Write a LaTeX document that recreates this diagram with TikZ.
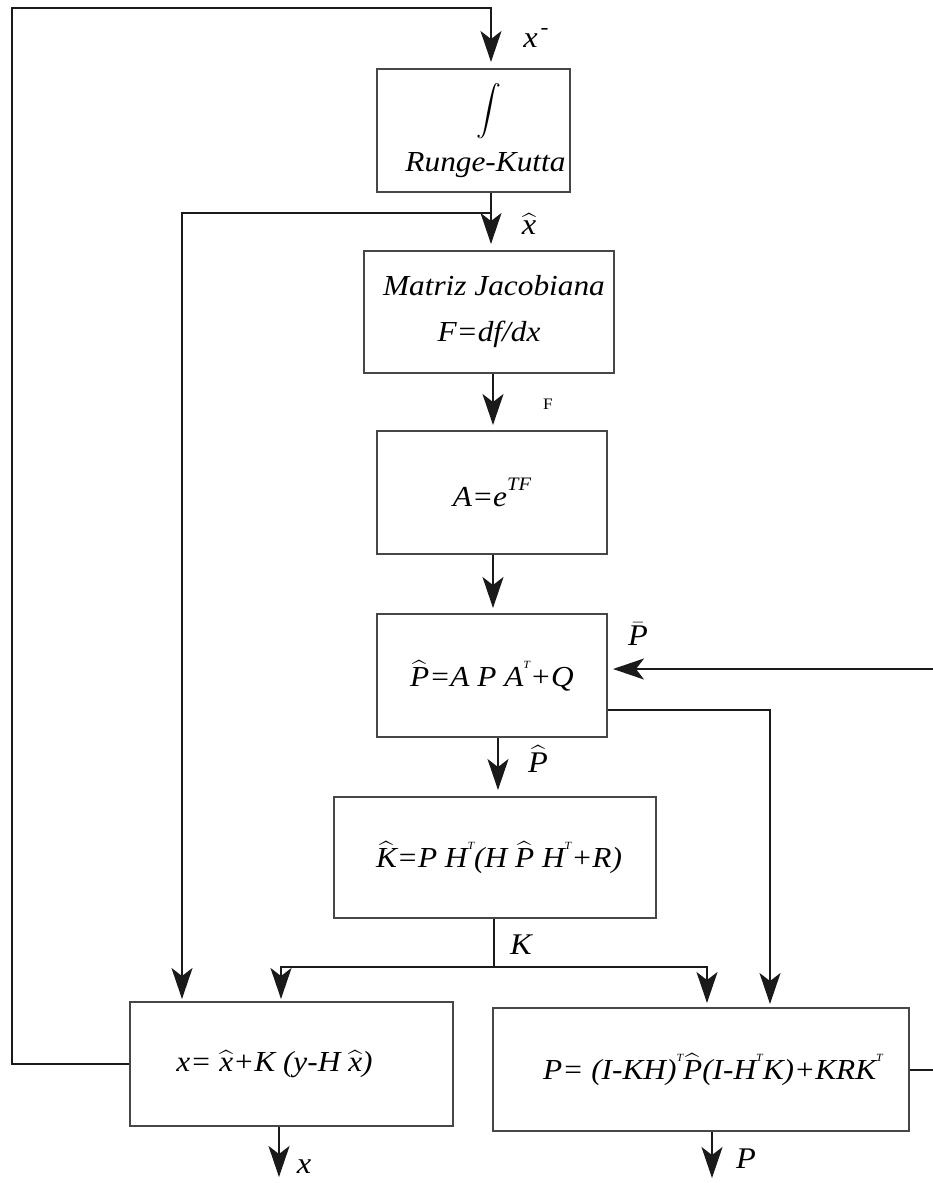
\RequirePackage{fix-cm}
\documentclass[tikz,border=0pt]{standalone}
\usepackage{amsmath}
\usepackage{fontspec}
\setmainfont{Liberation Serif}[FakeStretch=1.08]
\usetikzlibrary{arrows.meta,calc}
\definecolor{linec}{HTML}{1A1A1A}
\definecolor{boxc}{HTML}{474747}
\newcommand\hatof[1]{$\widehat{\text{\itshape #1}}$}
\newcommand\supT{\raisebox{0.62em}{\fontsize{11}{11}\selectfont T}}
\begin{document}
\begin{tikzpicture}[x=1pt,y=-1pt,
  box/.style={draw=boxc, line width=2pt, rectangle, inner sep=0pt, align=center,
              font=\fontsize{29}{46}\selectfont\itshape},
  ln/.style={draw=linec, line width=2pt},
  arr/.style={draw=linec, line width=2pt, -{Stealth[length=31pt,width=21pt,inset=8pt]}},
  lab/.style={inner sep=0pt, font=\fontsize{30}{30}\selectfont\itshape}]
\useasboundingbox (0,0) rectangle (933,1183);

% boxes
\node[box, minimum width=193pt, minimum height=123pt] (b1) at (473.5,130.5)
  {\hspace*{30pt}{\fontsize{27}{27}\selectfont$\displaystyle\int$}\\[8pt]\hspace*{24pt}Runge-Kutta};
\node[box, minimum width=250pt, minimum height=122pt] (b2) at (489,312)
  {\hspace*{10pt}Matriz Jacobiana\\F=df/dx};
\node[box, minimum width=230pt, minimum height=123pt] (b3) at (492,492.5)
  {A=e\raisebox{0.55em}{\fontsize{19}{19}\selectfont TF}};
\node[box, minimum width=230pt, minimum height=123pt] (b4) at (492,675.5)
  {\raisebox{3pt}{\hatof{P}=A P A\supT+Q}};
\node[box, minimum width=322pt, minimum height=121pt] (b5) at (495,857.5)
  {\hspace*{8pt}\hatof{K}=P H\supT(H \hatof{P} H\supT+R)};
\node[box, minimum width=323pt, minimum height=124pt] (b6) at (291.5,1064)
  {x= \hatof{x}+K (y-H \hatof{x})\hspace*{34pt}};
\node[box, minimum width=416pt, minimum height=123pt] (b7) at (701,1069.5)
  {\hspace*{24pt}P= (I-KH)\supT\hatof{P}(I-H\supT K)+KRK\supT};

% helper coordinates
\coordinate (tl) at (12,8);
\coordinate (cA) at (491,0);
\coordinate (j1) at (491,213);
\coordinate (cX) at (182,0);
\coordinate (cB) at (493,0);
\coordinate (cC) at (498,0);
\coordinate (cK) at (494,0);
\coordinate (kj) at (494,967);
\coordinate (cL) at (281,0);
\coordinate (cR) at (707,0);
\coordinate (cP) at (770,0);
\coordinate (rt) at (934,0);
\coordinate (b4in) at ([yshift=6.5pt]b4.east);
\coordinate (b4out) at ([yshift=-34.5pt]b4.east);
\coordinate (ox) at (279,1177);
\coordinate (op) at (712,1178);

% connectors
\draw[arr, shorten >=6pt] (b6.west) -| (tl) -| (b1.north -| cA);
\draw[arr, shorten >=6pt] (b1.south -| cA) -- (b2.north -| cA);
\draw[arr, shorten >=2pt] (j1) -| (b6.north -| cX);
\draw[arr, shorten >=5pt] (b2.south -| cB) -- (b3.north -| cB);
\draw[arr, shorten >=5pt] (b3.south -| cB) -- (b4.north -| cB);
\draw[arr, shorten >=6pt] (b4.south -| cC) -- (b5.north -| cC);
\draw[ln] (b5.south -| cK) -- (kj);
\draw[arr, shorten >=2pt] (kj) -| (b6.north -| cL);
\draw[arr, shorten >=4pt] (kj) -| (b7.north -| cR);
\draw[arr, shorten >=3pt] (b4out) -| (b7.north -| cP);
\draw[arr, shorten >=5pt] (b7.east) -| (b4in -| rt) -- (b4in);
\draw[arr] (b6.south -| ox) -- (ox);
\draw[arr] (b7.south -| op) -- (op);

% labels
\node[lab] (lxm) at (536,38) {x\raisebox{0.45em}{\hspace{3pt}\fontsize{22}{22}\selectfont -}};
\node[lab] (lxh) at (529,224) {\hatof{x}};
\node[inner sep=0pt, font=\fontsize{16}{16}\selectfont] (lF) at (548,404) {F};
\node[lab] (lPb) at (638,634) {$\bar{\text{\itshape P}}$};
\node[lab] (lPh) at (538,759) {\hatof{P}};
\node[lab] (lK) at (521,945) {K};
\node[lab] (lx) at (304,1167) {x};
\node[lab] (lP) at (746,1159) {P};
\end{tikzpicture}
\end{document}
